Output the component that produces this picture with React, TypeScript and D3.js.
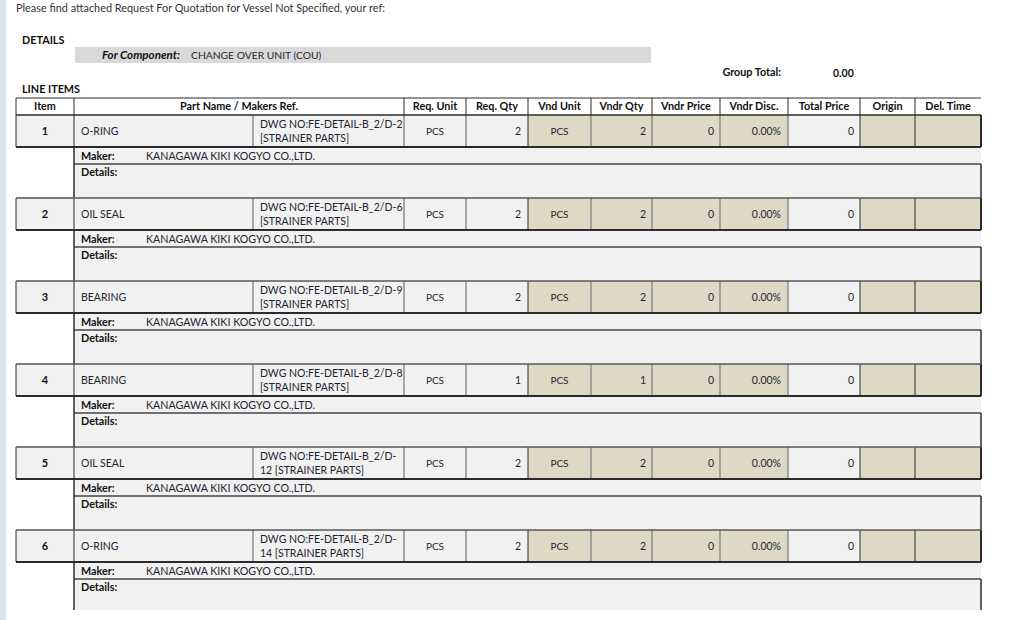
import React, { useEffect, useRef } from "react";
import * as d3 from "d3";

// line item data
const itemNos = [1, 2, 3, 4, 5, 6];
const partNames = ["O-RING", "OIL SEAL", "BEARING", "BEARING", "OIL SEAL", "O-RING"];
const makersRefs = [
  ["DWG NO:FE-DETAIL-B_2/D-2", "[STRAINER PARTS]"],
  ["DWG NO:FE-DETAIL-B_2/D-6", "[STRAINER PARTS]"],
  ["DWG NO:FE-DETAIL-B_2/D-9", "[STRAINER PARTS]"],
  ["DWG NO:FE-DETAIL-B_2/D-8", "[STRAINER PARTS]"],
  ["DWG NO:FE-DETAIL-B_2/D-", "12 [STRAINER PARTS]"],
  ["DWG NO:FE-DETAIL-B_2/D-", "14 [STRAINER PARTS]"],
];
const reqUnits = ["PCS", "PCS", "PCS", "PCS", "PCS", "PCS"];
const reqQtys = [2, 2, 2, 1, 2, 2];
const vndUnits = ["PCS", "PCS", "PCS", "PCS", "PCS", "PCS"];
const vndQtys = [2, 2, 2, 1, 2, 2];
const vndPrices = [0, 0, 0, 0, 0, 0];
const vndDiscs = ["0.00%", "0.00%", "0.00%", "0.00%", "0.00%", "0.00%"];
const totalPrices = [0, 0, 0, 0, 0, 0];
const makers = Array(6).fill("KANAGAWA KIKI KOGYO CO.,LTD.");

const headers = [
  "Item", "Part Name / Makers Ref.", "Req. Unit", "Req. Qty", "Vnd Unit",
  "Vndr Qty", "Vndr Price", "Vndr Disc.", "Total Price", "Origin", "Del. Time",
];

// layout
const colEdges = [16, 74, 404, 466, 528, 591, 652, 720, 788, 860, 915, 981];
const refX = 253;
const FONT = "Lato, 'Open Sans', sans-serif";
const TXT = "#1e2530";
const GREY = "#f1f1f1";
const TAN = "#ddd9c4";
const DARK = "#2b2b2b";
const MID = "#8c8c8c";

export default function App() {
  const ref = useRef<SVGSVGElement | null>(null);

  useEffect(() => {
    document.body.style.margin = "0";
    const svg = d3.select(ref.current);
    svg.selectAll("*").remove();

    svg.append("rect").attr("width", 1024).attr("height", 620).attr("fill", "#fff");
    svg.append("rect").attr("width", 6).attr("height", 620).attr("fill", "#dce3eb");

    const text = (x: number, y: number, s: string, opts: any = {}) =>
      svg.append("text")
        .attr("x", x).attr("y", y)
        .attr("font-family", FONT)
        .attr("font-size", opts.size || 10.5)
        .attr("font-weight", opts.bold ? "bold" : "normal")
        .attr("font-style", opts.italic ? "italic" : "normal")
        .attr("text-anchor", opts.anchor || "start")
        .attr("fill", opts.color || TXT)
        .text(s);

    text(16, 12, "Please find attached Request For Quotation for Vessel Not Specified, your ref:", { color: "#333", size: 10.9 });
    text(22, 44, "DETAILS", { bold: true, color: "#111", size: 10.8 });
    svg.append("rect").attr("x", 75).attr("y", 47).attr("width", 576).attr("height", 16).attr("fill", "#d9d9d9");
    text(180, 59, "For Component:", { bold: true, italic: true, anchor: "end", color: "#111", size: 11.6 });
    text(191, 59, "CHANGE OVER UNIT (COU)", { size: 10.3 });
    text(781, 76, "Group Total:", { bold: true, anchor: "end", size: 10.8, color: "#111" });
    text(833, 77, "0.00", { bold: true, size: 10.5, color: "#111" });
    text(22, 93, "LINE ITEMS", { bold: true, color: "#111", size: 10.8 });

    // header row
    const hTop = 98, hBot = 115;
    svg.append("line").attr("x1", 16).attr("x2", 981).attr("y1", hTop).attr("y2", hTop).attr("stroke", DARK).attr("stroke-width", 1);
    colEdges.slice(0, -1).forEach((x0, i) => {
      svg.append("line").attr("x1", x0).attr("x2", x0).attr("y1", hTop).attr("y2", hBot).attr("stroke", DARK).attr("stroke-width", 1);
      text((x0 + colEdges[i + 1]) / 2, 110, headers[i], { bold: true, anchor: "middle", color: "#111", size: 10.8 });
    });

    const y = d3.scaleLinear().domain([0, 6]).range([hBot, hBot + 6 * 83]);
    const tanCols = new Set([4, 5, 6, 7, 9, 10]);

    itemNos.forEach((no, i) => {
      const top = y(i);
      const rowB = top + 32;
      const makerB = rowB + 17;
      const detB = y(i + 1) - 1;

      // item row cells
      for (let c = 0; c < colEdges.length - 1; c++) {
        svg.append("rect")
          .attr("x", colEdges[c]).attr("y", top)
          .attr("width", colEdges[c + 1] - colEdges[c]).attr("height", rowB - top)
          .attr("fill", tanCols.has(c) ? TAN : GREY);
      }
      // maker + details bands
      svg.append("rect").attr("x", 74).attr("y", rowB).attr("width", 907).attr("height", detB - rowB).attr("fill", GREY);
      if (i === itemNos.length - 1) {
        svg.append("rect").attr("x", 74).attr("y", 610).attr("width", 950).attr("height", 10).attr("fill", "#fff");
      }

      // inner verticals
      [...colEdges.slice(1, -1), refX].forEach((x) => {
        const dark = x === 74 || x === 528 || x === 860 || x === 915;
        svg.append("line").attr("x1", x).attr("x2", x).attr("y1", top).attr("y2", rowB)
          .attr("stroke", dark ? DARK : MID).attr("stroke-width", dark ? 1 : 1.5);
      });
      svg.append("line").attr("x1", 16).attr("x2", 16).attr("y1", top).attr("y2", rowB).attr("stroke", DARK);
      svg.append("line").attr("x1", 981).attr("x2", 981).attr("y1", top).attr("y2", rowB).attr("stroke", DARK).attr("stroke-width", 2);
      svg.append("line").attr("x1", 16).attr("x2", 981).attr("y1", top).attr("y2", top)
        .attr("stroke", i === 0 ? DARK : "#555").attr("stroke-width", 1.5);
      svg.append("line").attr("x1", 16).attr("x2", 981).attr("y1", rowB).attr("y2", rowB).attr("stroke", DARK).attr("stroke-width", 2);

      // maker/details borders
      svg.append("line").attr("x1", 74).attr("x2", 74).attr("y1", rowB).attr("y2", Math.min(detB + 1, 610)).attr("stroke", DARK).attr("stroke-width", 1.5);
      svg.append("line").attr("x1", 74).attr("x2", 981).attr("y1", makerB).attr("y2", makerB).attr("stroke", "#444").attr("stroke-width", 1.5);
      svg.append("line").attr("x1", 981).attr("x2", 981).attr("y1", makerB).attr("y2", Math.min(detB + 1, 610)).attr("stroke", DARK).attr("stroke-width", 1.5);

      // texts
      const mid = top + 20;
      text((colEdges[0] + colEdges[1]) / 2, mid, String(no), { bold: true, anchor: "middle", color: "#111", size: 11 });
      text(81, mid, partNames[i]);
      text(260, top + 13, makersRefs[i][0]);
      text(260, top + 27, makersRefs[i][1]);
      text((colEdges[2] + colEdges[3]) / 2, mid, reqUnits[i], { anchor: "middle", size: 10 });
      text(colEdges[4] - 7, mid, String(reqQtys[i]), { anchor: "end" });
      text((colEdges[4] + colEdges[5]) / 2, mid, vndUnits[i], { anchor: "middle", size: 10 });
      text(colEdges[6] - 6, mid, String(vndQtys[i]), { anchor: "end" });
      text(colEdges[7] - 6, mid, String(vndPrices[i]), { anchor: "end" });
      text(colEdges[8] - 7, mid, vndDiscs[i], { anchor: "end" });
      text(colEdges[9] - 6, mid, String(totalPrices[i]), { anchor: "end" });
      text(81, rowB + 13, "Maker:", { bold: true, color: "#111", size: 10.8 });
      text(146, rowB + 13, makers[i], { size: 10.7 });
      text(81, makerB + 12, "Details:", { bold: true, color: "#111", size: 10.8 });
    });
  }, []);

  return <svg ref={ref} width={1024} height={620} style={{ display: "block" }} />;
}
